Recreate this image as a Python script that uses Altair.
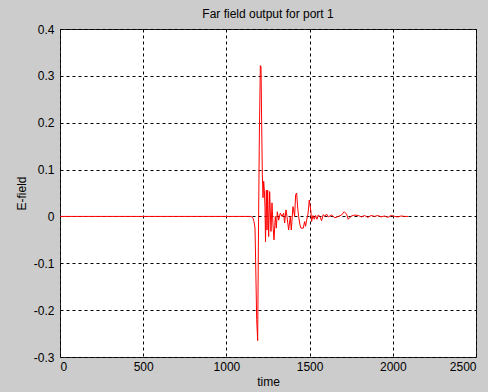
import altair as alt
import pandas as pd

time = [0, 1150, 1160, 1166, 1172, 1176, 1182, 1188, 1192, 1198, 1204, 1208, 1212, 1216,
        1220, 1224, 1228, 1232, 1235, 1240, 1244, 1248, 1254, 1260, 1268, 1274, 1280, 1286,
        1294, 1300, 1306, 1314, 1324, 1334, 1344, 1350, 1358, 1364, 1374, 1384, 1390, 1400,
        1410, 1416, 1422, 1428, 1434, 1442, 1448, 1462, 1470, 1476, 1482, 1490, 1494, 1498,
        1502, 1508, 1512, 1520, 1528, 1536, 1544, 1552, 1562, 1572, 1582, 1592, 1602, 1612,
        1632, 1652, 1672, 1692, 1708, 1722, 1732, 1742, 1752, 1772, 1792, 1812, 1830, 1850,
        1870, 1890, 1910, 1930, 1950, 1970, 1990, 2010, 2030, 2050, 2070, 2092]
efield = [0, 0, -0.004, -0.011, -0.025, -0.10, -0.22, -0.265, -0.067, 0.174, 0.322, 0.32,
          0.195, 0.09, 0.04, 0.075, 0.056, 0.02, -0.054, 0.056, -0.029, 0.056, -0.043, 0.053,
          -0.032, 0.029, -0.018, -0.05, 0.0, -0.025, 0.01, -0.008, 0.007, 0.0, 0.007, -0.014,
          0.014, 0.0, -0.029, 0.0, -0.029, 0.021, 0.0, 0.046, 0.05, 0.02, 0.0, -0.018, -0.025,
          -0.025, -0.011, -0.021, -0.008, 0.005, 0.018, 0.035, 0.026, 0.01, -0.011, 0.002,
          -0.006, 0.002, -0.006, 0.003, 0.0, -0.009, 0.004, 0.0, 0.005, -0.001, 0.003, -0.003,
          0.0, 0.003, 0.01, 0.005, -0.006, -0.002, 0.001, 0.003, 0.002, -0.001, 0.002, -0.002,
          0.002, 0.0, 0.002, -0.001, 0.001, -0.002, 0.002, 0.0, -0.001, 0.001, 0.0, 0.0]

x_ticks = [0, 500, 1000, 1500, 2000, 2500]
y_ticks = [-0.3, -0.2, -0.1, 0, 0.1, 0.2, 0.3, 0.4]

df = pd.DataFrame({"time": time, "E": efield})

FONT = "Liberation Sans"

chart = alt.Chart(df).mark_line(color="#ff0000", strokeWidth=1).encode(
    x=alt.X("time:Q",
            scale=alt.Scale(domain=[0, 2500], nice=False, zero=False),
            axis=alt.Axis(values=x_ticks, title="time", format="d",
                          labelPadding=4, titlePadding=4)),
    y=alt.Y("E:Q",
            scale=alt.Scale(domain=[-0.3, 0.4], nice=False, zero=False),
            axis=alt.Axis(values=y_ticks, title="E-field", labelPadding=6, titlePadding=5,
                          labelExpr="replace(format(datum.value, '.1~f'), '\u2212', '-')")),
).properties(
    width=416,
    height=328,
    title=alt.TitleParams("Far field output for port 1", font=FONT, fontSize=12,
                          fontWeight="normal", color="#000000", offset=2),
    autosize=alt.AutoSizeParams(type="none"),
    padding={"left": 60, "top": 29, "right": 12, "bottom": 35},
).configure(
    background="#cccccc",
).configure_view(
    fill="#ffffff", stroke="#222222", strokeWidth=1,
).configure_axis(
    grid=True, gridColor="#000000", gridDash=[3, 3], gridOpacity=1, gridWidth=1,
    domain=False, ticks=False,
    labelFont=FONT, labelFontSize=12, labelColor="#000000",
    titleFont=FONT, titleFontSize=12, titleFontWeight="normal", titleColor="#000000",
)

chart.save("out.html", embed_options={"renderer": "svg", "actions": False})
